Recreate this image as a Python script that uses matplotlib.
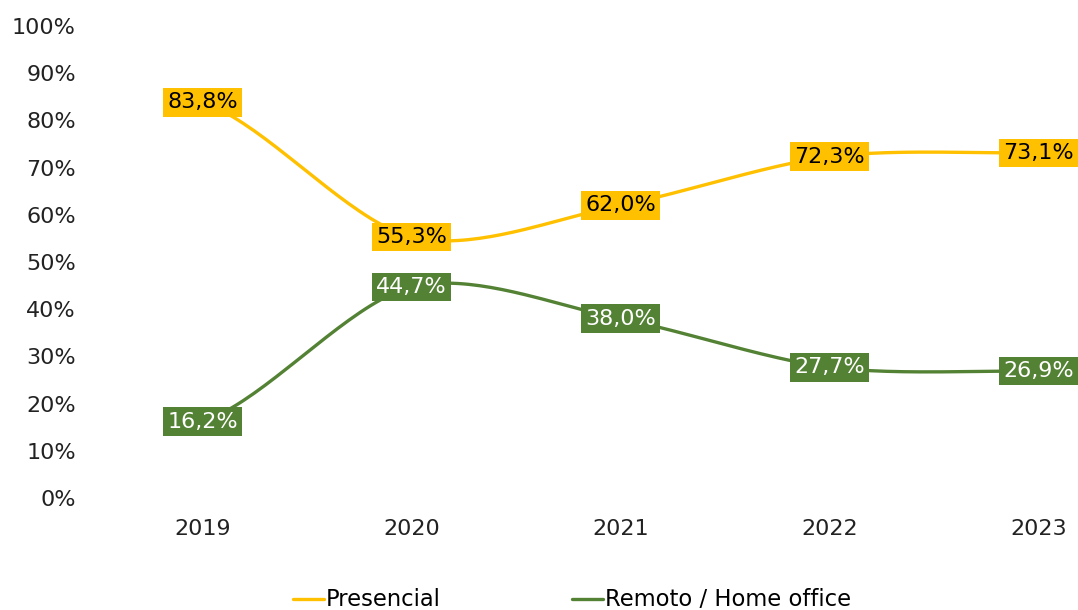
import numpy as np
import matplotlib
matplotlib.use("Agg")
from matplotlib import pyplot as plt

years = ["2019", "2020", "2021", "2022", "2023"]
presencial = [83.8, 55.3, 62.0, 72.3, 73.1]
remoto = [16.2, 44.7, 38.0, 27.7, 26.9]
series_names = ["Presencial", "Remoto / Home office"]
yticks = [0, 10, 20, 30, 40, 50, 60, 70, 80, 90, 100]

amarelo = "#FFC000"
verde = "#548235"


def suavizar(x, y, n=40):
    # curva tipo Catmull-Rom (como a linha suavizada do Excel)
    x = np.asarray(x, float)
    y = np.asarray(y, float)
    px = np.concatenate([[2 * x[0] - x[1]], x, [2 * x[-1] - x[-2]]])
    py = np.concatenate([[y[0]], y, [y[-1]]])
    xs, ys = [], []
    t = np.linspace(0, 1, n)
    for i in range(1, len(px) - 2):
        for p, out in ((px, xs), (py, ys)):
            p0, p1, p2, p3 = p[i - 1], p[i], p[i + 1], p[i + 2]
            m1 = (p2 - p0) / 2 * 0.9
            m2 = (p3 - p1) / 2 * 0.9
            h00 = 2 * t**3 - 3 * t**2 + 1
            h10 = t**3 - 2 * t**2 + t
            h01 = -2 * t**3 + 3 * t**2
            h11 = t**3 - t**2
            out.extend(h00 * p1 + h10 * m1 + h01 * p2 + h11 * m2)
    return np.array(xs), np.array(ys)


plt.rcParams["font.family"] = ["DejaVu Sans"]
fig = plt.figure(figsize=(10.78, 6.10), dpi=100)
ax = fig.add_axes([98 / 1078, 112 / 610, 1 - 98 / 1078, 472 / 610])

x = np.arange(len(years))
for vals, cor, nome, txtcor in ((presencial, amarelo, series_names[0], "black"),
                                (remoto, verde, series_names[1], "white")):
    sx, sy = suavizar(x, vals)
    ax.plot(sx, sy, color=cor, lw=2.4, label=nome, solid_capstyle="round")
    for xi, v in zip(x, vals):
        ax.text(xi, v, f"{v:.1f}%".replace(".", ","), ha="center", va="center",
                fontsize=16, color=txtcor,
                bbox=dict(boxstyle="square,pad=0.2", fc=cor, ec="none"))

ax.set_xlim(-0.5, 4.19)
ax.set_ylim(0, 100)
ax.set_yticks(yticks)
ax.set_yticklabels([f"{t}%" for t in yticks], fontsize=16, color="#222222")
ax.set_xticks(x)
ax.set_xticklabels(years, fontsize=16, color="#222222")
ax.tick_params(length=0)
ax.tick_params(axis="x", pad=15)
ax.tick_params(axis="y", pad=16)
for s in ax.spines.values():
    s.set_visible(False)

fig.legend(loc="center left", bbox_to_anchor=(293 / 1078, 10 / 610), ncol=2,
           frameon=False, fontsize=16.3, handlelength=1.35, handletextpad=0.1,
           columnspacing=5.8, borderpad=0, borderaxespad=0)

fig.savefig("out.png", dpi=100)
